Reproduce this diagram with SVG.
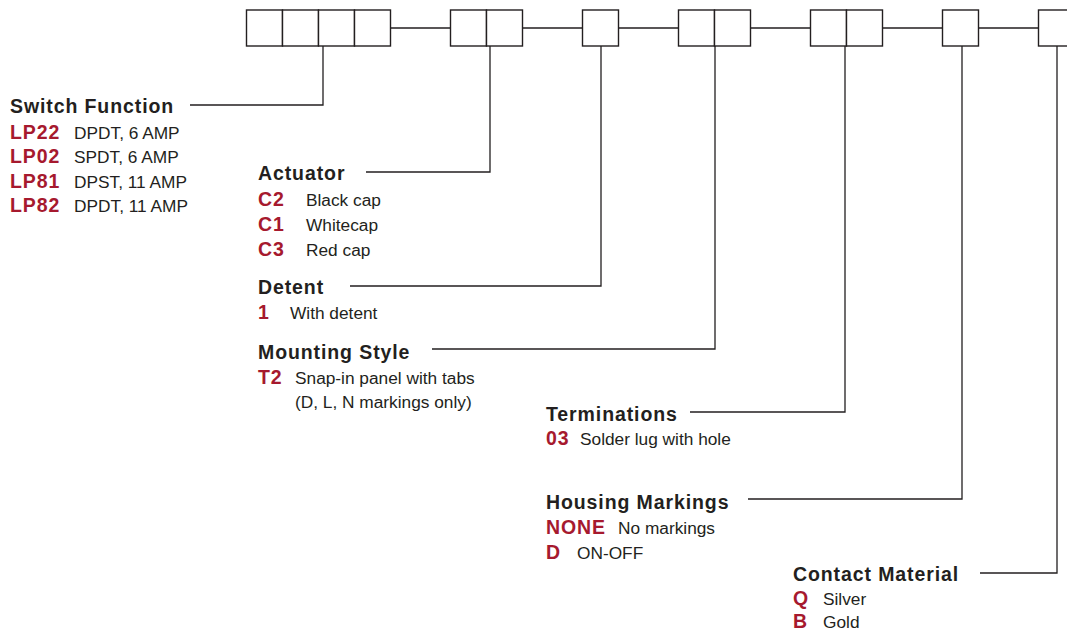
<svg xmlns="http://www.w3.org/2000/svg" width="1067" height="631" viewBox="0 0 1067 631">
<style>
.box{fill:#fff;stroke:#231f20;stroke-width:1.4}
.ln{fill:none;stroke:#231f20;stroke-width:1.3}
.t{font-family:"Liberation Sans",Arial,sans-serif;font-weight:bold;font-size:19.5px;letter-spacing:0.9px;fill:#231f20}
.c{font-family:"Liberation Sans",Arial,sans-serif;font-weight:bold;font-size:19.5px;letter-spacing:0.9px;fill:#a6192e}
.d{font-family:"Liberation Sans",Arial,sans-serif;font-size:17.3px;fill:#231f20}
</style>
<rect width="1067" height="631" fill="#fff"/>
<g id="connectors">
<path class="ln" d="M391 28H450.5M522.5 28H582.5M618.5 28H678.5M750.5 28H810.5M882.5 28H942.5M978.5 28H1038.5"/>
<path class="ln" d="M190 105H323V46"/>
<path class="ln" d="M366 172H490V46"/>
<path class="ln" d="M350 286H601V46"/>
<path class="ln" d="M432 349H715V46"/>
<path class="ln" d="M690 412H845V46"/>
<path class="ln" d="M748 499H962V46"/>
<path class="ln" d="M980 573H1057V46"/>
</g>
<g id="boxes1">
<rect class="box" x="246.5" y="10" width="36" height="36"/>
<rect class="box" x="282.5" y="10" width="36" height="36"/>
<rect class="box" x="318.5" y="10" width="36" height="36"/>
<rect class="box" x="354.5" y="10" width="36" height="36"/>
</g>
<g id="boxes2">
<rect class="box" x="450.5" y="10" width="36" height="36"/>
<rect class="box" x="486.5" y="10" width="36" height="36"/>
</g>
<g id="boxes3">
<rect class="box" x="582.5" y="10" width="36" height="36"/>
</g>
<g id="boxes4">
<rect class="box" x="678.5" y="10" width="36" height="36"/>
<rect class="box" x="714.5" y="10" width="36" height="36"/>
</g>
<g id="boxes5">
<rect class="box" x="810.5" y="10" width="36" height="36"/>
<rect class="box" x="846.5" y="10" width="36" height="36"/>
</g>
<g id="boxes6">
<rect class="box" x="942.5" y="10" width="36" height="36"/>
</g>
<g id="boxes7">
<rect class="box" x="1038.5" y="10" width="36" height="36"/>
</g>
<g id="switch-function">
<text class="t" x="10" y="113">Switch Function</text>
<text class="c" x="10" y="138.5">LP22</text><text class="d" x="74" y="138.5">DPDT, 6 AMP</text>
<text class="c" x="10" y="163">LP02</text><text class="d" x="74" y="163">SPDT, 6 AMP</text>
<text class="c" x="10" y="187.5">LP81</text><text class="d" x="74" y="187.5">DPST, 11 AMP</text>
<text class="c" x="10" y="212">LP82</text><text class="d" x="74" y="212">DPDT, 11 AMP</text>
</g>
<g id="actuator">
<text class="t" x="258" y="180">Actuator</text>
<text class="c" x="258" y="205.5">C2</text><text class="d" x="306" y="205.5">Black cap</text>
<text class="c" x="258" y="230.5">C1</text><text class="d" x="306" y="230.5">Whitecap</text>
<text class="c" x="258" y="255.5">C3</text><text class="d" x="306" y="255.5">Red cap</text>
</g>
<g id="detent">
<text class="t" x="258" y="293.5">Detent</text>
<text class="c" x="258" y="318.5">1</text><text class="d" x="290" y="318.5">With detent</text>
</g>
<g id="mounting-style">
<text class="t" x="258" y="359">Mounting Style</text>
<text class="c" x="258" y="384">T2</text><text class="d" x="295" y="384">Snap-in panel with tabs</text>
<text class="d" x="295" y="408">(D, L, N markings only)</text>
</g>
<g id="terminations">
<text class="t" x="546" y="420.5">Terminations</text>
<text class="c" x="546" y="445">03</text><text class="d" x="580" y="445">Solder lug with hole</text>
</g>
<g id="housing-markings">
<text class="t" x="546" y="508.5">Housing Markings</text>
<text class="c" x="546" y="533.5">NONE</text><text class="d" x="618" y="533.5">No markings</text>
<text class="c" x="546" y="558.5">D</text><text class="d" x="577" y="558.5">ON-OFF</text>
</g>
<g id="contact-material">
<text class="t" x="793" y="580.5">Contact Material</text>
<text class="c" x="793" y="605">Q</text><text class="d" x="823" y="605">Silver</text>
<text class="c" x="793" y="627.5">B</text><text class="d" x="823" y="627.5">Gold</text>
</g>
</svg>
